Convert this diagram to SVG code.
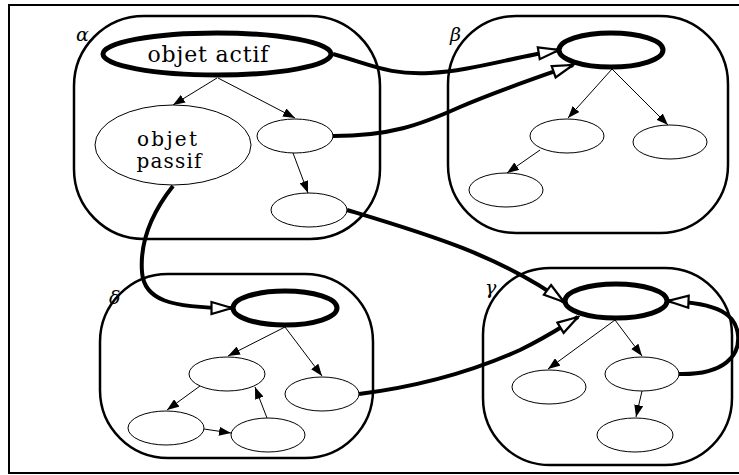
<svg xmlns="http://www.w3.org/2000/svg" width="739" height="475" viewBox="0 0 739 475">
<style>
.box{fill:none;stroke:#000;stroke-width:2.5}
.act{fill:#fff;stroke:#000;stroke-width:5}
.pas{fill:#fff;stroke:#000;stroke-width:1}
.thin{fill:none;stroke:#000;stroke-width:1;marker-end:url(#fa)}
.thick{fill:none;stroke:#000;stroke-width:4;marker-end:url(#ha)}
.lbl{font-family:"DejaVu Serif","Liberation Serif",serif;font-style:italic;font-size:19px;fill:#000}
.txt{font-family:"DejaVu Serif","Liberation Serif",serif;font-size:22px;fill:#000;text-anchor:middle}
.txt2{font-family:"DejaVu Serif","Liberation Serif",serif;font-size:20px;fill:#000;text-anchor:middle}
</style>
<defs>
<marker id="fa" viewBox="0 0 12 9" refX="12" refY="4.5" markerWidth="12" markerHeight="9" markerUnits="userSpaceOnUse" orient="auto"><path d="M0,0 L12,4.5 L0,9 z" fill="#000"/></marker>
<marker id="ha" viewBox="0 0 24 16" refX="22" refY="8" markerWidth="24" markerHeight="16" markerUnits="userSpaceOnUse" orient="auto"><path d="M1.5,2 L22,8 L1.5,14 z" fill="#fff" stroke="#000" stroke-width="2.2"/></marker>
</defs>
<rect x="9" y="5" width="740" height="468" fill="none" stroke="#000" stroke-width="2"/>

<g id="alpha">
<rect class="box" x="74" y="16" width="306" height="223" rx="70" ry="70"/>
<text class="lbl" x="76" y="41">α</text>
</g>
<g id="beta">
<rect class="box" x="448" y="16" width="280" height="217" rx="68" ry="68"/>
<text class="lbl" x="450" y="41">β</text>
</g>
<g id="delta">
<rect class="box" x="100" y="274" width="273" height="184" rx="68" ry="68"/>
<text class="lbl" x="109" y="304">δ</text>
</g>
<g id="gamma">
<rect class="box" x="483" y="268" width="249" height="197" rx="67" ry="67"/>
<text class="lbl" x="485" y="294">γ</text>
</g>

<g id="connectors">
<path class="thin" d="M217,78 L173,105"/>
<path class="thin" d="M218,78 L295,118"/>
<path class="thin" d="M293,153 L308,193"/>
<path class="thin" d="M612,69 L568,118"/>
<path class="thin" d="M612,69 L668,125"/>
<path class="thin" d="M540,150 L507,173"/>
<path class="thin" d="M285,327 L228,356"/>
<path class="thin" d="M285,327 L322,376"/>
<path class="thin" d="M200,386 L167,410"/>
<path class="thin" d="M204,429 L231,433"/>
<path class="thin" d="M267,418 L255,387"/>
<path class="thin" d="M615,320 L548,369"/>
<path class="thin" d="M615,320 L642,356"/>
<path class="thin" d="M642,391 L636,417"/>
<path class="thick" d="M333,54 C375,66 390,75 430,73 C470,71 510,58 559,50"/>
<path class="thick" d="M333,136 C390,136 420,125 460,107 C500,90 530,80 573,65"/>
<path class="thick" d="M347,210 C420,232 500,255 564,302"/>
<path class="thick" d="M173,186 C150,215 140,245 142,272 C144,300 170,308 232,308"/>
<path class="thick" d="M359,394 C430,385 480,368 520,350 C545,338 560,328 578,317"/>
<path class="thick" d="M679,374 C725,375 740,355 738,335 C736,315 720,303 668,301"/>
</g>

<g id="a-actif"><ellipse class="act" cx="217" cy="54" rx="114" ry="21"/><text class="txt" x="208" y="62" textLength="121" lengthAdjust="spacing">objet actif</text></g>
<g id="a-passif"><ellipse class="pas" cx="173" cy="145" rx="78" ry="40"/><text class="txt2" x="167" y="146" textLength="60" lengthAdjust="spacing">objet</text><text class="txt2" x="169" y="168" textLength="65" lengthAdjust="spacing">passif</text></g>
<g id="a-n1"><ellipse class="pas" cx="295" cy="136" rx="38" ry="17"/></g>
<g id="a-n2"><ellipse class="pas" cx="309" cy="210" rx="38" ry="17"/></g>

<g id="b-top"><ellipse class="act" cx="611" cy="50" rx="52" ry="17"/></g>
<g id="b-n1"><ellipse class="pas" cx="567" cy="136" rx="37" ry="17"/></g>
<g id="b-n2"><ellipse class="pas" cx="670" cy="142" rx="37" ry="17"/></g>
<g id="b-n3"><ellipse class="pas" cx="506" cy="190" rx="37" ry="17"/></g>

<g id="d-top"><ellipse class="act" cx="285" cy="308" rx="52" ry="17"/></g>
<g id="d-n1"><ellipse class="pas" cx="227" cy="374" rx="38" ry="17"/></g>
<g id="d-n2"><ellipse class="pas" cx="322" cy="394" rx="37" ry="17"/></g>
<g id="d-n3"><ellipse class="pas" cx="166" cy="428" rx="38" ry="17"/></g>
<g id="d-n4"><ellipse class="pas" cx="268" cy="435" rx="37" ry="17"/></g>

<g id="g-top"><ellipse class="act" cx="616" cy="301" rx="51" ry="17"/></g>
<g id="g-n1"><ellipse class="pas" cx="549" cy="387" rx="37" ry="17"/></g>
<g id="g-n2"><ellipse class="pas" cx="642" cy="374" rx="37" ry="17"/></g>
<g id="g-n3"><ellipse class="pas" cx="635" cy="435" rx="38" ry="17"/></g>
</svg>
